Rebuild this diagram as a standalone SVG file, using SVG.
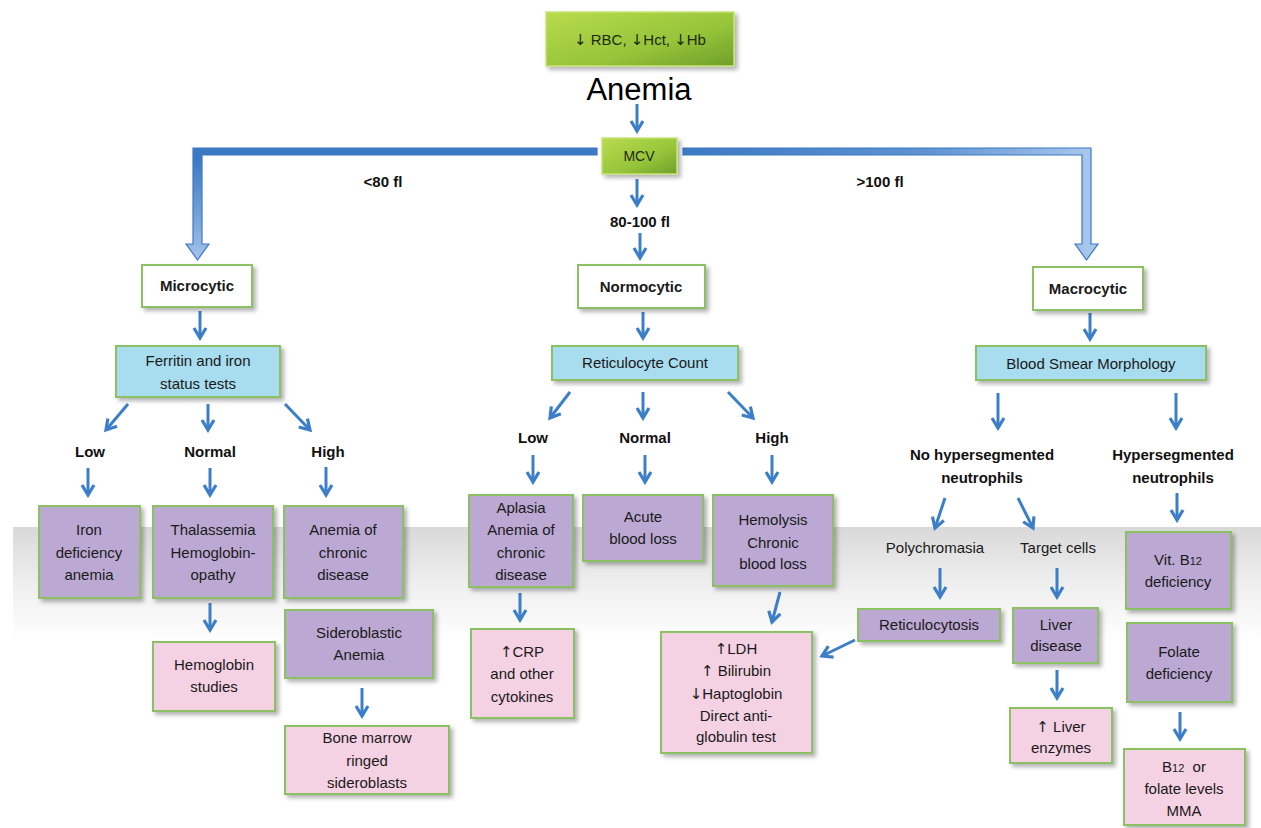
<svg xmlns="http://www.w3.org/2000/svg" width="1261" height="828" viewBox="0 0 1261 828">
<defs>
<linearGradient id="band" x1="0" y1="0" x2="0" y2="1">
<stop offset="0" stop-color="#d9d9d9"/>
<stop offset="0.5" stop-color="#efefef"/>
<stop offset="1" stop-color="#ffffff"/>
</linearGradient>
<linearGradient id="green" x1="0" y1="0" x2="1" y2="1">
<stop offset="0" stop-color="#b8dc4c"/>
<stop offset="0.6" stop-color="#96c43a"/>
<stop offset="1" stop-color="#6f9f2a"/>
</linearGradient>
<linearGradient id="leftArrow" gradientUnits="userSpaceOnUse" x1="0" y1="148" x2="0" y2="260">
<stop offset="0.1" stop-color="#3c79c3"/>
<stop offset="1" stop-color="#a3c3ea"/>
</linearGradient>
<linearGradient id="rightArrow" gradientUnits="userSpaceOnUse" x1="683" y1="0" x2="1091" y2="0">
<stop offset="0" stop-color="#3c79c3"/>
<stop offset="0.6" stop-color="#5f93d2"/>
<stop offset="1" stop-color="#a8c7ec"/>
</linearGradient>
<filter id="sh" x="-10%" y="-10%" width="130%" height="130%">
<feDropShadow dx="3" dy="3" stdDeviation="2" flood-color="#000" flood-opacity="0.3"/>
</filter>
<marker id="ah" markerUnits="userSpaceOnUse" markerWidth="16" markerHeight="16" viewBox="0 0 16 16" refX="13" refY="8" orient="auto">
<path d="M3,2 L13,8 L3,14" fill="none" stroke="#3c7fc8" stroke-width="3.2" stroke-linejoin="miter"/>
</marker>
</defs>
<style>
.t{font-family:"Liberation Sans",Arial,sans-serif;font-size:15px;fill:#1a1a1a;text-anchor:middle}
.b{font-weight:bold}
.lab{font-family:"Liberation Sans",Arial,sans-serif;font-size:15px;font-weight:bold;fill:#111;text-anchor:middle}
.box{stroke:#8cc164;stroke-width:2;filter:url(#sh)}
.white{fill:#ffffff}
.blue{fill:#a8dcef}
.purple{fill:#bba9d3}
.pink{fill:#f4d1e3}
.gbox{fill:url(#green);stroke:#c8e27a;stroke-width:1.5;filter:url(#sh)}
.c{fill:none;stroke:#3c7fc8;stroke-width:3;marker-end:url(#ah)}
.sm{font-size:11px}
.ar{font-family:"DejaVu Sans",sans-serif}
</style>
<rect width="1261" height="828" fill="#ffffff"/>
<rect x="13" y="527" width="1248" height="115" fill="url(#band)"/>

<g id="connectors">
<path d="M597,148 L193,148 L193,244 L186,244 L197.5,260 L209,244 L202,244 L202,155 L597,155 Z" fill="url(#leftArrow)" stroke="#3c79c3" stroke-width="1.2"/>
<path d="M683,148 L1091,148 L1091,244 L1098,244 L1086.5,260 L1075,244 L1082,244 L1082,155 L683,155 Z" fill="url(#rightArrow)" stroke="#3c79c3" stroke-width="1.2"/>
<line class="c" x1="637" y1="104" x2="637" y2="131"/>
<line class="c" x1="637" y1="179" x2="637" y2="205"/>
<line class="c" x1="640" y1="233" x2="640" y2="258"/>
<line class="c" x1="200" y1="311" x2="200" y2="338"/>
<line class="c" x1="643" y1="312" x2="643" y2="338"/>
<line class="c" x1="1090" y1="313" x2="1090" y2="339"/>
<line class="c" x1="128" y1="404" x2="106" y2="430"/>
<line class="c" x1="208" y1="404" x2="208" y2="430"/>
<line class="c" x1="285" y1="404" x2="310" y2="430"/>
<line class="c" x1="88" y1="468" x2="88" y2="495"/>
<line class="c" x1="210" y1="468" x2="210" y2="495"/>
<line class="c" x1="326" y1="467" x2="326" y2="495"/>
<line class="c" x1="210" y1="603" x2="210" y2="630"/>
<line class="c" x1="362" y1="688" x2="362" y2="716"/>
<line class="c" x1="570" y1="392" x2="550" y2="418"/>
<line class="c" x1="643" y1="392" x2="643" y2="418"/>
<line class="c" x1="728" y1="392" x2="753" y2="418"/>
<line class="c" x1="533" y1="455" x2="533" y2="482"/>
<line class="c" x1="645" y1="455" x2="645" y2="482"/>
<line class="c" x1="772" y1="455" x2="772" y2="482"/>
<line class="c" x1="520" y1="593" x2="520" y2="620"/>
<line class="c" x1="780" y1="592" x2="772" y2="622"/>
<line class="c" x1="855" y1="640" x2="822" y2="656"/>
<line class="c" x1="998" y1="393" x2="998" y2="428"/>
<line class="c" x1="1176" y1="393" x2="1176" y2="428"/>
<line class="c" x1="945" y1="498" x2="935" y2="528"/>
<line class="c" x1="1018" y1="498" x2="1033" y2="528"/>
<line class="c" x1="1177" y1="493" x2="1177" y2="520"/>
<line class="c" x1="940" y1="568" x2="940" y2="597"/>
<line class="c" x1="1057" y1="568" x2="1057" y2="597"/>
<line class="c" x1="1057" y1="670" x2="1057" y2="698"/>
<line class="c" x1="1180" y1="712" x2="1180" y2="739"/>
</g>

<g id="labels">
<text class="lab" x="383" y="187">&lt;80 fl</text>
<text class="lab" x="880" y="187">&gt;100 fl</text>
<text class="lab" x="640" y="227">80-100 fl</text>
<text class="lab" x="90" y="457">Low</text>
<text class="lab" x="210" y="457">Normal</text>
<text class="lab" x="328" y="457">High</text>
<text class="lab" x="533" y="443">Low</text>
<text class="lab" x="645" y="443">Normal</text>
<text class="lab" x="772" y="443">High</text>
<text class="lab" x="982" y="460">No hypersegmented</text>
<text class="lab" x="982" y="483">neutrophils</text>
<text class="lab" x="1173" y="460">Hypersegmented</text>
<text class="lab" x="1173" y="483">neutrophils</text>
<text class="t" x="935" y="553">Polychromasia</text>
<text class="t" x="1058" y="553">Target cells</text>
</g>

<g id="n-top">
<rect class="gbox" x="546" y="12" width="188" height="54"/>
<text class="t" x="640" y="45" style="font-size:15px;fill:#1c2a10"><tspan class="ar">↓</tspan> RBC, <tspan class="ar">↓</tspan>Hct, <tspan class="ar">↓</tspan>Hb</text>
</g>
<g id="n-anemia">
<text x="639" y="100" style="font-family:'Liberation Sans',Arial,sans-serif;font-size:31px;fill:#000;text-anchor:middle">Anemia</text>
</g>
<g id="n-mcv">
<rect class="gbox" x="602" y="138" width="75" height="36"/>
<text class="t" x="639" y="161" style="font-size:14px;fill:#1c2a10">MCV</text>
</g>

<g id="n-microcytic">
<rect class="box white" x="142" y="265" width="110" height="42"/>
<text class="t b" x="197" y="291">Microcytic</text>
</g>
<g id="n-normocytic">
<rect class="box white" x="578" y="265" width="127" height="43"/>
<text class="t b" x="641" y="292">Normocytic</text>
</g>
<g id="n-macrocytic">
<rect class="box white" x="1033" y="267" width="110" height="43"/>
<text class="t b" x="1088" y="294">Macrocytic</text>
</g>

<g id="n-ferritin">
<rect class="box blue" x="116" y="346" width="164" height="51"/>
<text class="t" x="198" y="366">Ferritin and iron</text>
<text class="t" x="198" y="389">status tests</text>
</g>
<g id="n-retic">
<rect class="box blue" x="552" y="346" width="186" height="34"/>
<text class="t" x="645" y="368">Reticulocyte Count</text>
</g>
<g id="n-smear">
<rect class="box blue" x="976" y="346" width="230" height="34"/>
<text class="t" x="1091" y="369">Blood Smear Morphology</text>
</g>

<g id="n-iron">
<rect class="box purple" x="39" y="506" width="101" height="92"/>
<text class="t" x="89" y="535">Iron</text>
<text class="t" x="89" y="558">deficiency</text>
<text class="t" x="89" y="580">anemia</text>
</g>
<g id="n-thal">
<rect class="box purple" x="153" y="506" width="120" height="92"/>
<text class="t" x="213" y="535">Thalassemia</text>
<text class="t" x="213" y="558">Hemoglobin-</text>
<text class="t" x="213" y="580">opathy</text>
</g>
<g id="n-acd">
<rect class="box purple" x="284" y="506" width="119" height="92"/>
<text class="t" x="343" y="535">Anemia of</text>
<text class="t" x="343" y="558">chronic</text>
<text class="t" x="343" y="580">disease</text>
</g>
<g id="n-hbstudies">
<rect class="box pink" x="153" y="642" width="122" height="69"/>
<text class="t" x="214" y="670">Hemoglobin</text>
<text class="t" x="214" y="692">studies</text>
</g>
<g id="n-sidero">
<rect class="box purple" x="285" y="610" width="148" height="68"/>
<text class="t" x="359" y="638">Sideroblastic</text>
<text class="t" x="359" y="660">Anemia</text>
</g>
<g id="n-marrow">
<rect class="box pink" x="285" y="726" width="164" height="68"/>
<text class="t" x="367" y="743">Bone marrow</text>
<text class="t" x="367" y="766">ringed</text>
<text class="t" x="367" y="788">sideroblasts</text>
</g>

<g id="n-aplasia">
<rect class="box purple" x="469" y="495" width="104" height="92"/>
<text class="t" x="521" y="513">Aplasia</text>
<text class="t" x="521" y="535">Anemia of</text>
<text class="t" x="521" y="558">chronic</text>
<text class="t" x="521" y="580">disease</text>
</g>
<g id="n-acute">
<rect class="box purple" x="583" y="495" width="120" height="66"/>
<text class="t" x="643" y="522">Acute</text>
<text class="t" x="643" y="544">blood loss</text>
</g>
<g id="n-hemolysis">
<rect class="box purple" x="713" y="495" width="120" height="91"/>
<text class="t" x="773" y="525">Hemolysis</text>
<text class="t" x="773" y="548">Chronic</text>
<text class="t" x="773" y="569">blood loss</text>
</g>
<g id="n-crp">
<rect class="box pink" x="471" y="629" width="103" height="89"/>
<text class="t" x="522" y="657"><tspan class="ar">↑</tspan>CRP</text>
<text class="t" x="522" y="679">and other</text>
<text class="t" x="522" y="702">cytokines</text>
</g>
<g id="n-ldh">
<rect class="box pink" x="661" y="632" width="151" height="121"/>
<text class="t" x="736" y="654"><tspan class="ar">↑</tspan>LDH</text>
<text class="t" x="736" y="676"><tspan class="ar">↑</tspan> Bilirubin</text>
<text class="t" x="736" y="699"><tspan class="ar">↓</tspan>Haptoglobin</text>
<text class="t" x="736" y="721">Direct anti-</text>
<text class="t" x="736" y="742">globulin test</text>
</g>

<g id="n-reticulocytosis">
<rect class="box purple" x="858" y="609" width="142" height="32"/>
<text class="t" x="929" y="630">Reticulocytosis</text>
</g>
<g id="n-liver">
<rect class="box purple" x="1013" y="608" width="85" height="55"/>
<text class="t" x="1056" y="630">Liver</text>
<text class="t" x="1056" y="651">disease</text>
</g>
<g id="n-enzymes">
<rect class="box pink" x="1010" y="708" width="102" height="55"/>
<text class="t" x="1061" y="732"><tspan class="ar">↑</tspan> Liver</text>
<text class="t" x="1061" y="753">enzymes</text>
</g>
<g id="n-b12">
<rect class="box purple" x="1126" y="532" width="105" height="77"/>
<text class="t" x="1178" y="565">Vit. B<tspan class="sm">12</tspan></text>
<text class="t" x="1178" y="587">deficiency</text>
</g>
<g id="n-folate">
<rect class="box purple" x="1127" y="623" width="105" height="79"/>
<text class="t" x="1179" y="657">Folate</text>
<text class="t" x="1179" y="679">deficiency</text>
</g>
<g id="n-levels">
<rect class="box pink" x="1124" y="749" width="121" height="76"/>
<text class="t" x="1184" y="772" xml:space="preserve">B<tspan class="sm">12</tspan>  or</text>
<text class="t" x="1184" y="794">folate levels</text>
<text class="t" x="1184" y="816">MMA</text>
</g>
</svg>
